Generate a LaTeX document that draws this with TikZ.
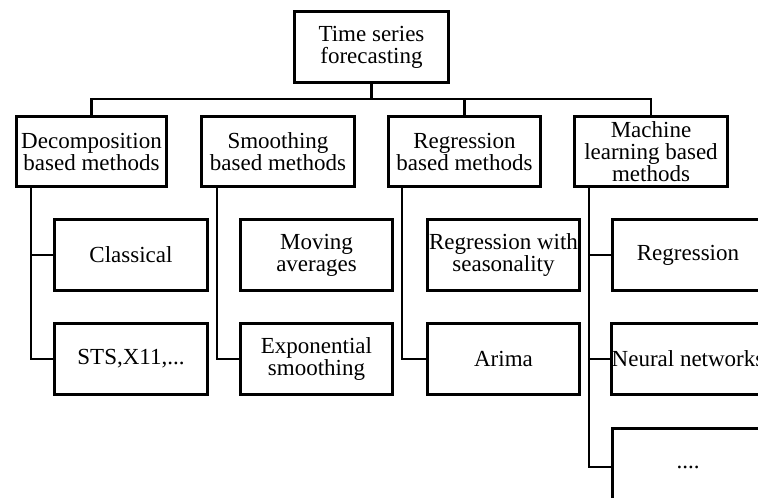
\documentclass[tikz,border=0pt]{standalone}
\usepackage{fontspec}
\setmainfont{Liberation Serif}
\begin{document}
\begin{tikzpicture}[x=1pt,y=-1pt,
  box/.style={draw=black,line width=3pt,inner sep=0pt,align=center,
    font=\fontsize{23}{22}\selectfont,minimum width=152pt,minimum height=71pt},
  conn/.style={draw=black,line width=2.6pt,line join=miter}]
\useasboundingbox (0,0) rectangle (758,498);
\clip (0,0) rectangle (758,498);
\fill[white] (0,0) rectangle (758,498);
% root
\node[box,minimum width=154pt] (top) at (371.5,47) {Time series\\forecasting};
% level 1
\node[box,minimum width=150pt,minimum height=70pt] (d1) at (91.5,151.5) {Decomposition\\based methods};
\node[box,minimum width=153pt,minimum height=70pt] (d2) at (278,151.5) {Smoothing\\based methods};
\node[box,minimum width=152pt,minimum height=70pt] (d3) at (464.5,151.5) {Regression\\based methods};
\node[box,minimum width=153pt,minimum height=70pt] (d4) at (651,151.5) {Machine\\learning based\\methods};
% level 2
\node[box,minimum width=153pt] (c11) at (131,255) {Classical};
\node[box,minimum width=153pt] (c12) at (131,359) {STS,X11,...};
\node[box] (c21) at (316.5,255) {Moving\\averages};
\node[box] (c22) at (316.5,359) {Exponential\\smoothing};
\node[box] (c31) at (503.5,255) {Regression with\\seasonality};
\node[box] (c32) at (503.5,359) {Arima};
\node[box] (c41) at (688,255) {Regression};
\node[box] (c42) at (688,359) {Neural networks};
\node[box,minimum height=77pt] (c43) at (688,467) {....};
% bus
\coordinate (bus) at (0,99);
\draw[conn] (top.south) -- (top.south |- bus);
\draw[conn] (d1.north) -- (d1.north |- bus) -- (d4.north |- bus) -- (d4.north);
\draw[conn] (d3.north) -- (d3.north |- bus);
% children
\draw[conn] ([xshift=16pt]d1.south west) |- (c11.west);
\draw[conn] ([xshift=16pt]d1.south west) |- (c12.west);
\draw[conn] ([xshift=17pt]d2.south west) |- (c22.west);
\draw[conn] ([xshift=15pt]d3.south west) |- (c32.west);
\draw[conn] ([xshift=16pt]d4.south west) |- (c41.west);
\draw[conn] ([xshift=16pt]d4.south west) |- (c42.west);
\draw[conn] ([xshift=16pt]d4.south west) |- (c43.west);
\end{tikzpicture}
\end{document}
